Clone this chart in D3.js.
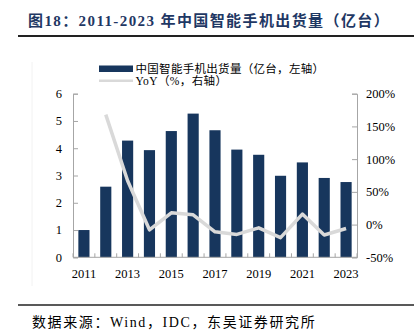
<!DOCTYPE html>
<html><head><meta charset="utf-8">
<script src="https://cdn.jsdelivr.net/npm/d3@7"></script>
<style>
html,body{margin:0;padding:0;background:#fff;}
svg{display:block;}
</style></head>
<body>
<script>
const years = ["2011","2012","2013","2014","2015","2016","2017","2018","2019","2020","2021","2022","2023"];
const shipments = [1.0, 2.59, 4.28, 3.93, 4.63, 5.27, 4.66, 3.95, 3.76, 2.99, 3.48, 2.91, 2.76];
const yoy = [null, 168, 67, -8, 18, 15, -11, -15, -5, -20, 16, -16, -6];
const leftTicks = [0,1,2,3,4,5,6];
const rightTicks = [-50,0,50,100,150,200];
const xLabels = ["2011","2013","2015","2017","2019","2021","2023"];
const title = "图18：2011-2023 年中国智能手机出货量（亿台）";
const legendLabels = ["中国智能手机出货量（亿台，左轴）","YoY（%，右轴）"];
const source = "数据来源：Wind，IDC，东吴证券研究所";

const W = 415, H = 332;
const L = 73, R = 357, T = 93.7, B = 257.3;
const serif = "'Liberation Serif','Noto Sans CJK SC',serif";
const barColor = "#17365d", lineColor = "#d9d9d9", axisColor = "#a6a6a6";

const svg = d3.select("body").append("svg").attr("width", W).attr("height", H);

// title
svg.append("text").attr("x", 28).attr("y", 25.5).text(title)
  .attr("font-family", serif).attr("font-weight", "bold").attr("font-size", 15)
  .attr("letter-spacing", 1.4).attr("fill", "#1f3864");
svg.append("line").attr("x1", 18).attr("x2", 414).attr("y1", 36).attr("y2", 36)
  .attr("stroke", "#222").attr("stroke-width", 2);

// faint image border
svg.append("line").attr("x1", 32).attr("x2", 32).attr("y1", 62).attr("y2", 286)
  .attr("stroke", "#f2f2f2").attr("stroke-width", 1);

const x = d3.scaleBand().domain(years).range([L, R]).paddingInner(0.49).paddingOuter(0.245);
const xb = d3.scaleBand().domain(years).range([L, R]);
const yL = d3.scaleLinear().domain([0, 6]).range([B, T]);
const yR = d3.scaleLinear().domain([-50, 200]).range([B, T]);

// bars
svg.append("g").selectAll("rect").data(years).join("rect")
  .attr("x", d => x(d)).attr("width", x.bandwidth())
  .attr("y", (d,i) => yL(shipments[i])).attr("height", (d,i) => yL(0) - yL(shipments[i]))
  .attr("fill", barColor);

// left axis
const gl = svg.append("g").attr("transform", `translate(${L},0)`)
  .call(d3.axisRight(yL).tickValues(leftTicks).tickSize(5).tickFormat(""));
gl.selectAll("path,line").attr("stroke", axisColor);
svg.append("g").selectAll("text").data(leftTicks).join("text")
  .attr("x", 62).attr("y", d => yL(d)).attr("dy", "0.35em").attr("text-anchor", "end")
  .attr("font-family", serif).attr("font-size", 12.5).attr("fill", "#000").text(d => d);

// right axis
const gr = svg.append("g").attr("transform", `translate(${R},0)`)
  .call(d3.axisLeft(yR).tickValues(rightTicks).tickSize(5).tickFormat(""));
gr.selectAll("path,line").attr("stroke", axisColor);
svg.append("g").selectAll("text").data(rightTicks).join("text")
  .attr("x", 366).attr("y", d => yR(d)).attr("dy", "0.35em").attr("text-anchor", "start")
  .attr("font-family", serif).attr("font-size", 12.5).attr("fill", "#000").text(d => d + "%");

// bottom axis
const bounds = years.map(d => xb(d)).concat([R]);
svg.append("line").attr("x1", L).attr("x2", R).attr("y1", B).attr("y2", B).attr("stroke", axisColor);
svg.append("g").selectAll("line").data(bounds).join("line")
  .attr("x1", d => d).attr("x2", d => d).attr("y1", B).attr("y2", B - 4).attr("stroke", axisColor);
svg.append("g").selectAll("text").data(xLabels).join("text")
  .attr("x", d => xb(d) + xb.bandwidth()/2).attr("y", 277.5).attr("text-anchor", "middle")
  .attr("font-family", serif).attr("font-size", 12.5).attr("fill", "#000").text(d => d);

// line
const pts = years.map((d,i) => [xb(d) + xb.bandwidth()/2, yoy[i]]).filter(p => p[1] !== null);
svg.append("path").datum(pts)
  .attr("d", d3.line().x(p => p[0]).y(p => yR(p[1])))
  .attr("fill", "none").attr("stroke", lineColor).attr("stroke-width", 3.5)
  .attr("stroke-linejoin", "round");

// legend
svg.append("rect").attr("x", 99).attr("y", 65.5).attr("width", 34).attr("height", 6.5).attr("fill", barColor);
svg.append("line").attr("x1", 99).attr("x2", 133).attr("y1", 80.8).attr("y2", 80.8)
  .attr("stroke", lineColor).attr("stroke-width", 2.5);
svg.append("text").attr("x", 135.5).attr("y", 68.8).attr("dy", "0.35em").text(legendLabels[0])
  .attr("font-family", serif).attr("font-size", 11.5).attr("letter-spacing", 0.3).attr("fill", "#000");
svg.append("text").attr("x", 135.5).attr("y", 81.3).attr("dy", "0.35em").text(legendLabels[1])
  .attr("font-family", serif).attr("font-size", 11.5).attr("letter-spacing", 0.4).attr("fill", "#000");

// source
svg.append("line").attr("x1", 18).attr("x2", 414).attr("y1", 305).attr("y2", 305)
  .attr("stroke", "#222").attr("stroke-width", 1.3);
svg.append("text").attr("x", 32).attr("y", 326.5).text(source)
  .attr("font-family", serif).attr("font-size", 14).attr("letter-spacing", 1.6).attr("fill", "#000");
</script>
</body></html>
